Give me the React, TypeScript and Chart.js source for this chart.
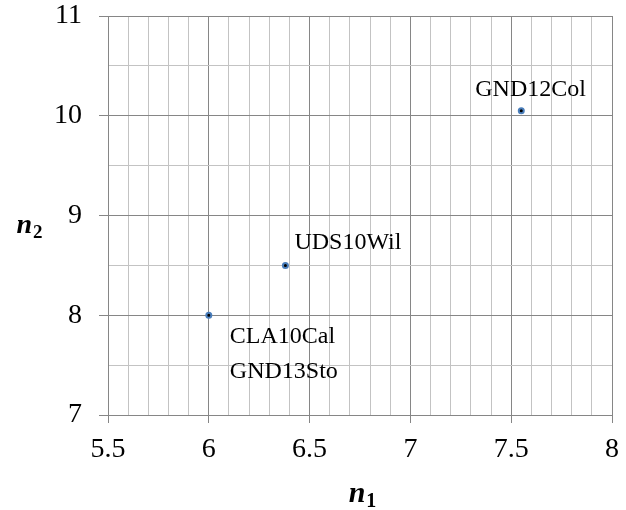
import React, { useEffect, useRef } from "react";
import { Chart, registerables } from "chart.js";

Chart.register(...registerables);

// ---- data ----
const pointLabels: string[][] = [["CLA10Cal", "GND13Sto"], ["UDS10Wil"], ["GND12Col"]];
const n1Values: number[] = [6.0, 6.38, 7.55];
const n2Values: number[] = [8.0, 8.5, 10.05];
const xRange = { min: 5.5, max: 8, minorStep: 0.1, majorStep: 0.5 };
const yRange = { min: 7, max: 11, minorStep: 0.5, majorStep: 1 };

// label placement (style): offsets in px from the point
const labelStyle = [
  { dx: 21, dy: 28 },
  { dx: 9, dy: -16 },
  { dx: -46, dy: -15 },
];

const FONT = "'Liberation Serif', 'Times New Roman', serif";
const MAJOR = "#868686";
const MINOR = "#c3c3c3";

const isMultiple = (v: number, step: number) => {
  const r = v / step;
  return Math.abs(r - Math.round(r)) < 1e-6;
};

const labelsPlugin = {
  id: "pointLabels",
  afterDatasetsDraw(chart: any) {
    const ctx = chart.ctx;
    const xs = chart.scales.x;
    const ys = chart.scales.y;
    ctx.save();
    ctx.fillStyle = "#000";
    ctx.font = `24px ${FONT}`;
    ctx.textBaseline = "alphabetic";
    ctx.textAlign = "left";
    pointLabels.forEach((lines, i) => {
      const px = xs.getPixelForValue(n1Values[i]);
      const py = ys.getPixelForValue(n2Values[i]);
      const st = labelStyle[i];
      lines.forEach((line, j) => {
        ctx.fillText(line, px + st.dx, py + st.dy + j * 35);
      });
    });
    ctx.restore();
  },
};

const drawSubTitle = (
  ctx: CanvasRenderingContext2D,
  main: string,
  sub: string,
  cx: number,
  baseline: number,
  mainSize: number,
  subSize: number,
  subDrop: number
) => {
  ctx.save();
  ctx.fillStyle = "#000";
  ctx.textBaseline = "alphabetic";
  ctx.textAlign = "left";
  const mainFont = `italic bold ${mainSize}px ${FONT}`;
  const subFont = `bold ${subSize}px ${FONT}`;
  ctx.font = mainFont;
  const w1 = ctx.measureText(main).width;
  ctx.font = subFont;
  const w2 = ctx.measureText(sub).width;
  const left = cx - (w1 + w2) / 2;
  ctx.font = mainFont;
  ctx.fillText(main, left, baseline);
  ctx.font = subFont;
  ctx.fillText(sub, left + w1 + 1, baseline + subDrop);
  ctx.restore();
};

const titlesPlugin = {
  id: "axisTitles",
  afterDraw(chart: any) {
    const ctx = chart.ctx;
    const a = chart.chartArea;
    drawSubTitle(ctx, "n", "1", (a.left + a.right) / 2 + 2, a.bottom + 87, 30, 20, 5);
    drawSubTitle(ctx, "n", "2", 29, (a.top + a.bottom) / 2 + 17, 28, 19, 5);
  },
};

export default function App() {
  const ref = useRef<HTMLCanvasElement | null>(null);

  useEffect(() => {
    document.body.style.margin = "0";
    if (!ref.current) return;
    const chart = new Chart(ref.current, {
      type: "scatter",
      data: {
        datasets: [
          {
            data: n1Values.map((x, i) => ({ x, y: n2Values[i] })),
            pointRadius: 2.5,
            pointBorderWidth: 2,
            pointBorderColor: "#4a7ebb",
            pointBackgroundColor: "#000",
            showLine: false,
          },
        ],
      },
      options: {
        responsive: false,
        animation: false,
        layout: { padding: { top: 16, right: 14, left: 0, bottom: 0 } },
        plugins: { legend: { display: false }, tooltip: { enabled: false } },
        scales: {
          x: {
            type: "linear",
            min: xRange.min,
            max: xRange.max,
            afterFit: (s: any) => {
              s.height = 95;
              s.paddingLeft = 0;
              s.paddingRight = 0;
            },
            ticks: {
              stepSize: xRange.minorStep,
              autoSkip: false,
              maxRotation: 0,
              padding: 10,
              color: "#000",
              font: { family: FONT, size: 28 },
              callback: (v: any) =>
                isMultiple(Number(v), xRange.majorStep) ? String(Math.round(Number(v) * 10) / 10) : "",
            },
            grid: {
              color: (c: any) => (isMultiple(c.tick?.value ?? 0, xRange.majorStep) ? MAJOR : MINOR),
              tickColor: (c: any) =>
                isMultiple(c.tick?.value ?? 0, xRange.majorStep) ? MAJOR : "rgba(0,0,0,0)",
              tickLength: 8,
              lineWidth: 1,
            },
            border: { color: MAJOR },
          },
          y: {
            type: "linear",
            min: yRange.min,
            max: yRange.max,
            afterFit: (s: any) => {
              s.width = 108;
              s.paddingTop = 0;
              s.paddingBottom = 0;
            },
            ticks: {
              stepSize: yRange.minorStep,
              autoSkip: false,
              padding: 17,
              color: "#000",
              font: { family: FONT, size: 28 },
              callback: (v: any) =>
                isMultiple(Number(v), yRange.majorStep) ? String(Math.round(Number(v))) : "",
            },
            grid: {
              color: (c: any) => (isMultiple(c.tick?.value ?? 0, yRange.majorStep) ? MAJOR : MINOR),
              tickColor: (c: any) =>
                isMultiple(c.tick?.value ?? 0, yRange.majorStep) ? MAJOR : "rgba(0,0,0,0)",
              tickLength: 9,
              lineWidth: 1,
            },
            border: { color: MAJOR },
          },
        },
      },
      plugins: [labelsPlugin, titlesPlugin],
    } as any);
    return () => chart.destroy();
  }, []);

  return (
    <div style={{ width: 626, height: 510 }}>
      <canvas ref={ref} width={626} height={510} />
    </div>
  );
}
